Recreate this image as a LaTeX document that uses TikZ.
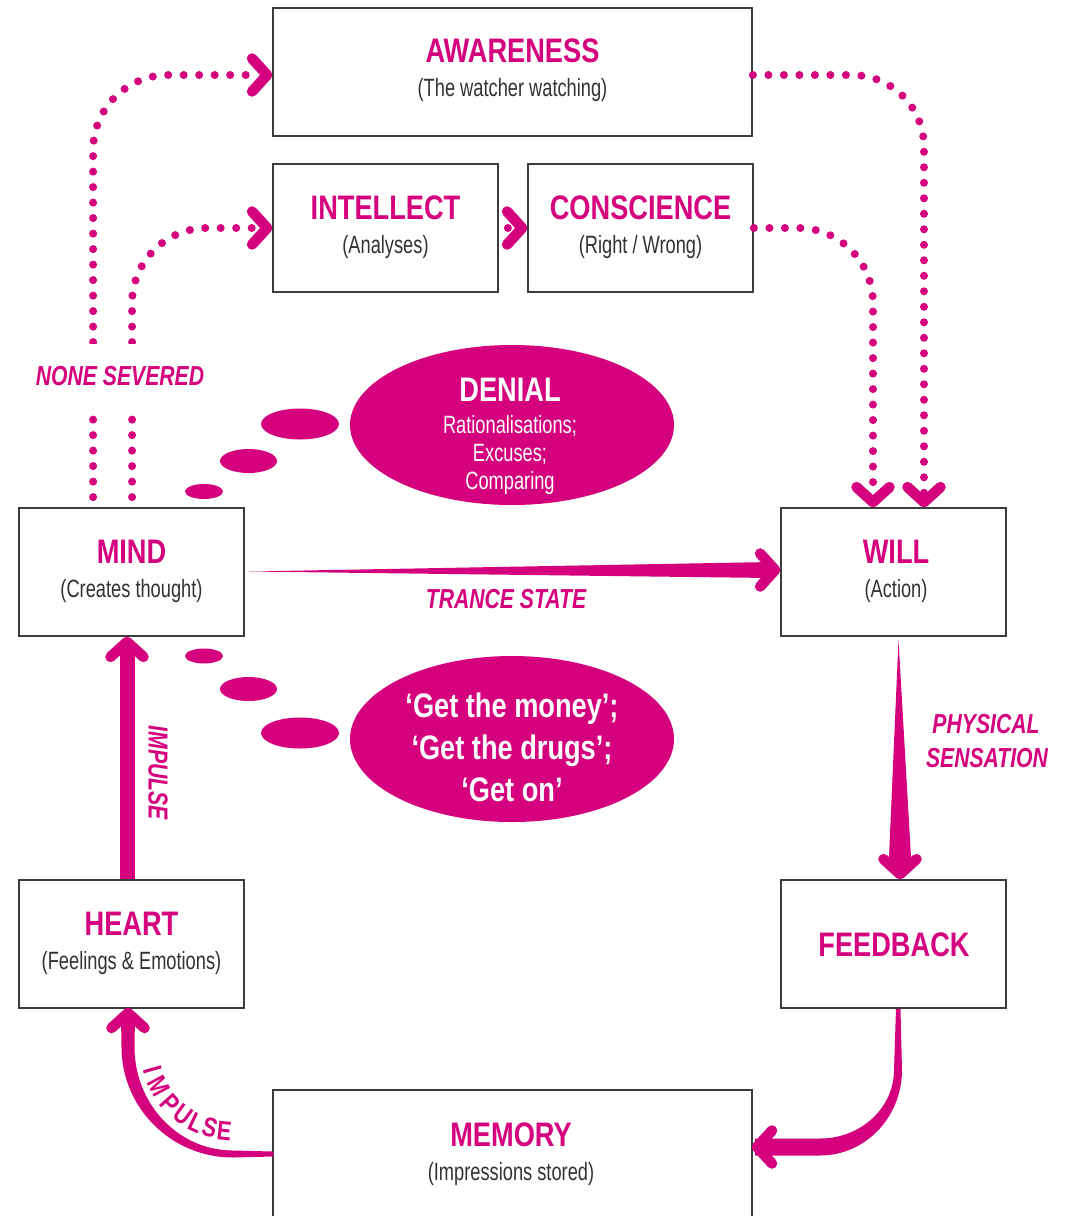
\documentclass[tikz,border=0pt]{standalone}
\usepackage{fontspec}
\setmainfont{Liberation Sans}
\newfontfamily\ttlfont{Liberation Sans}[FakeStretch=0.8]
\newfontfamily\subfont{Liberation Sans}[FakeStretch=0.73]
\newfontfamily\lblfont{Liberation Sans}[FakeStretch=0.77]
\newfontfamily\crvfont{Liberation Sans}[FakeStretch=0.8]
\usetikzlibrary{shapes.geometric}
\definecolor{mag}{RGB}{213,0,125}
\definecolor{boxgray}{RGB}{60,60,60}
\definecolor{subgray}{RGB}{50,50,50}
\tikzset{
 box/.style={draw=boxgray, line width=1.8pt, minimum width=225pt, minimum height=128pt, inner sep=0pt},
 widebox/.style={box, minimum width=479pt},
 ttl/.style={text=mag, font=\ttlfont\bfseries\fontsize{34}{40}\selectfont, anchor=base, inner sep=0pt},
 sub/.style={text=subgray, font=\subfont\fontsize{25}{28}\selectfont, anchor=base, inner sep=0pt},
 wttl/.style={ttl, text=white},
 wsub/.style={sub, text=white},
 lbl/.style={text=mag, font=\lblfont\bfseries\itshape\fontsize{27.5}{33}\selectfont, anchor=base, inner sep=0pt},
 crv/.style={text=mag, font=\crvfont\bfseries\fontsize{27}{30}\selectfont, anchor=center, inner sep=0pt},
 blob/.style={ellipse, fill=mag, draw=none, inner sep=0pt},
 dotline/.style={draw=mag, line width=8pt, line cap=round, dash pattern=on 0pt off 15.5pt},
 pics/chevron/.style={code={\draw[mag, line width=10.5pt, line cap=round, line join=round, solid] (-15,16.5) -- (0,0) -- (-15,-16.5);}},
}
\begin{document}
\begin{tikzpicture}[x=1pt,y=1pt]
\useasboundingbox (0,0) rectangle (1074,-1216);

% boxes
\node[widebox] (awareness) at (512.5,-72) {};
\node[box] (intellect) at (385.5,-228) {};
\node[box] (conscience) at (640.5,-228) {};
\node[box] (mind) at (131.5,-572) {};
\node[box] (will) at (893.5,-572) {};
\node[box] (heart) at (131.5,-944) {};
\node[box] (feedback) at (893.5,-944) {};
\node[widebox, minimum height=150pt] (memory) at (512.5,-1165) {};

% box texts
\node[ttl] (awT) at (512.5,-62) {AWARENESS};
\node[sub] (awS) at (512.5,-96) {(The watcher watching)};
\node[ttl] (inT) at (385.5,-219) {INTELLECT};
\node[sub] (inS) at (385.5,-253) {(Analyses)};
\node[ttl] (coT) at (640.5,-219) {CONSCIENCE};
\node[sub] (coS) at (640.5,-253) {(Right / Wrong)};
\node[ttl] (miT) at (131.5,-563) {MIND};
\node[sub] (miS) at (131.5,-597) {(Creates thought)};
\node[ttl] (wiT) at (896,-563) {WILL};
\node[sub] (wiS) at (896,-597) {(Action)};
\node[ttl] (heT) at (131.5,-935) {HEART};
\node[sub] (heS) at (131.5,-969) {(Feelings \& Emotions)};
\node[ttl] (feT) at (894,-956) {FEEDBACK};
\node[ttl] (meT) at (511,-1146) {MEMORY};
\node[sub] (meS) at (511,-1180) {(Impressions stored)};

% thought bubbles
\node[blob, minimum width=324pt, minimum height=160pt] (denial) at (512,-425) {};
\node[blob, minimum width=78pt, minimum height=31pt] (db1) at (300,-424) {};
\node[blob, minimum width=57pt, minimum height=24pt] (db2) at (248.5,-461) {};
\node[blob, minimum width=38pt, minimum height=15pt] (db3) at (204,-491.5) {};
\node[blob, minimum width=324pt, minimum height=166pt] (getit) at (512,-739) {};
\node[blob, minimum width=78pt, minimum height=31pt] (gb1) at (300,-733) {};
\node[blob, minimum width=57pt, minimum height=24pt] (gb2) at (248.5,-689) {};
\node[blob, minimum width=38pt, minimum height=15pt] (gb3) at (204,-656) {};

\node[wttl] (deT) at (510,-401) {DENIAL};
\node[wsub] (de1) at (510,-433) {Rationalisations;};
\node[wsub] (de2) at (510,-461) {Excuses;};
\node[wsub] (de3) at (510,-489) {Comparing};
\node[wttl] (ge1) at (512,-717) {‘Get the money’;};
\node[wttl] (ge2) at (512,-759) {‘Get the drugs’;};
\node[wttl] (ge3) at (512,-801) {‘Get on’};

% dotted connectors
\draw[dotline, rounded corners=75pt] ([shift={(75,10)}]mind.north west) |- ([shift={(-16,-3)}]awareness.west);
\draw[dotline, rounded corners=75pt] ([shift={(114,10)}]mind.north west) |- ([xshift=-16pt]intellect.west);
\draw[dotline, rounded corners=72pt] ([yshift=-3pt]awareness.east) -| ([shift={(30.5,14)}]will.north);
\draw[dotline, rounded corners=75pt] (conscience.east) -| ([shift={(-20.5,14)}]will.north);
\draw[dotline] ([xshift=9pt]intellect.east) -- ([xshift=-8pt]conscience.west);
\pic at ([shift={(-5,-3)}]awareness.west) {chevron};
\pic at ([xshift=-5pt]intellect.west) {chevron};
\pic at ([xshift=-5pt]conscience.west) {chevron};
\pic[rotate=-90] at ([shift={(30.5,5)}]will.north) {chevron};
\pic[rotate=-90] at ([shift={(-20.5,5)}]will.north) {chevron};

\node[lbl, anchor=center, fill=white, minimum height=64pt, inner xsep=2pt] (nonesev) at (120,-376) {NONE SEVERED};

% solid connectors
\fill[mag] ([shift={(4,0.5)}]mind.east) -- ([shift={(-9,10)}]will.west) -- ([shift={(-9,-6)}]will.west) -- cycle;
\pic at ([shift={(-5,2)}]will.west) {chevron};
\node[lbl] (trance) at (506,-608) {TRANCE STATE};

\fill[mag] ([shift={(5,-3)}]will.south) -- ([shift={(17.5,22)}]feedback.north) -- ([shift={(6.5,5)}]feedback.north) -- ([shift={(-4.5,22)}]feedback.north) -- cycle;
\pic[rotate=-90] at ([shift={(6.5,5)}]feedback.north) {chevron};
\node[lbl] (phys1) at (986,-733) {PHYSICAL};
\node[lbl] (phys2) at (987,-767) {SENSATION};

\draw[mag, line width=15pt] ([xshift=-4.5pt]heart.north) -- ([shift={(-4.5,-8)}]mind.south);
\pic[rotate=90] at ([shift={(-4.5,-5)}]mind.south) {chevron};
\node[lbl, anchor=center, rotate=-90] (impV) at (158,-773) {IMPULSE};

% feedback -> memory
\fill[mag] (900.5,-1009) -- (902,-1070) .. controls (902,-1117.2) and (865.3,-1155.5) .. (820,-1155.5) -- (755,-1155.5) -- (755,-1138.5) -- (820,-1138.5) .. controls (860.9,-1138.5) and (894,-1107.8) .. (894,-1070) -- (896,-1009) -- cycle;
\pic[rotate=180] at (757,-1147) {chevron};

% memory -> heart
\fill[mag] (273,-1156.5) -- (233,-1157.5) .. controls (171.4,-1157.5) and (121.5,-1108) .. (121.5,-1047) -- (121,-1016) -- (135,-1016) -- (134.5,-1047) .. controls (134.5,-1104.2) and (178.6,-1150.5) .. (233,-1150.5) -- (273,-1151.5) -- cycle;
\pic[rotate=90] at (128,-1013) {chevron};

\coordinate (arcc) at (233,-1047);
\node[crv, rotate=196+90] (c1) at ([shift={(196:84)}]arcc) {I};
\node[crv, rotate=208+90] (c2) at ([shift={(208:84)}]arcc) {M};
\node[crv, rotate=222+90] (c3) at ([shift={(222:84)}]arcc) {P};
\node[crv, rotate=234+90] (c4) at ([shift={(234:84)}]arcc) {U};
\node[crv, rotate=244.5+90] (c5) at ([shift={(244.5:84)}]arcc) {L};
\node[crv, rotate=254+90] (c6) at ([shift={(254:84)}]arcc) {S};
\node[crv, rotate=264+90] (c7) at ([shift={(264:84)}]arcc) {E};
\end{tikzpicture}
\end{document}
